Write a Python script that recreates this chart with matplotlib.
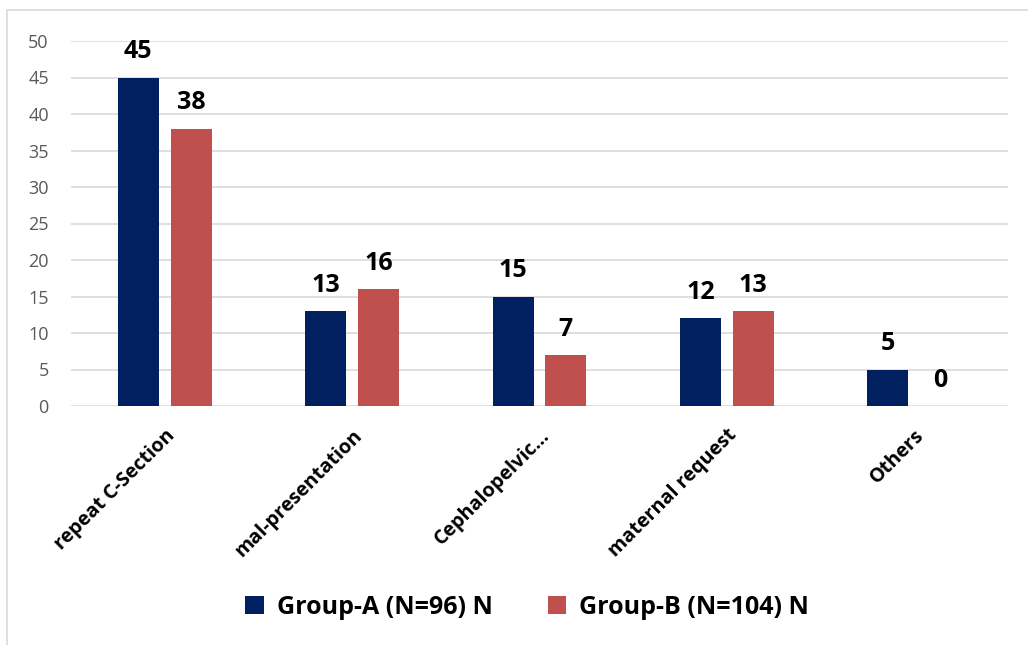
import numpy as np
import matplotlib.pyplot as plt
from matplotlib.patches import Rectangle

plt.rcParams['font.family'] = ['Open Sans', 'DejaVu Sans']

# ── データ ──────────────────────────────────────────
categories = ["repeat C-Section", "mal-presentation", "Cephalopelvic...",
              "maternal request", "Others"]
group_a = [45, 13, 15, 12, 5]
group_b = [38, 16, 7, 13, 0]
series_names = ["Group-A (N=96) N", "Group-B (N=104) N"]
colors = ["#002060", "#C0504D"]

W, H = 1028, 645
fig = plt.figure(figsize=(W / 100, H / 100), dpi=100)
ax = fig.add_axes([71 / W, 1 - 406 / H, (1008 - 71) / W, (406 - 41) / H])

# 外枠（左と上のみ見える）
fig.patches.append(Rectangle((7 / W, -0.1), 1.2, 1.1 - 10 / H,
                             transform=fig.transFigure, fill=False,
                             edgecolor="#D9D9D9", linewidth=1.2))

x = np.arange(len(categories))
bw = 0.218
off = 0.141
for vals, dx, c, name in [(group_a, -off, colors[0], series_names[0]),
                          (group_b, off, colors[1], series_names[1])]:
    bars = ax.bar(x + dx, vals, width=bw, color=c, label=name, zorder=3)
    for b, v in zip(bars, vals):
        ax.text(b.get_x() + b.get_width() / 2, v + 1.8, str(v),
                ha="center", va="bottom", fontsize=18, fontweight="bold",
                color="black")

ax.set_xlim(-0.5, len(categories) - 0.5)
ax.set_ylim(0, 50)
ax.set_yticks(range(0, 51, 5))
ax.grid(axis="y", color="#D9D9D9", linewidth=1.2, zorder=0)
for s in ax.spines.values():
    s.set_visible(False)
ax.tick_params(axis="both", length=0)
ax.tick_params(axis="y", labelsize=13, labelcolor="#595959", pad=16)
ax.set_xticks(x)
ax.set_xticklabels(categories, rotation=45, ha="right", rotation_mode="anchor",
                   fontsize=14.2, fontweight="bold")
ax.tick_params(axis="x", pad=14)

fig.legend(loc="center", bbox_to_anchor=(527 / W, 1 - 607 / H), ncol=2,
           frameon=False, prop={"weight": "bold", "size": 18},
           handlelength=0.75, handleheight=0.75, columnspacing=2.2,
           handletextpad=0.5)

fig.savefig("out.png", dpi=100)
